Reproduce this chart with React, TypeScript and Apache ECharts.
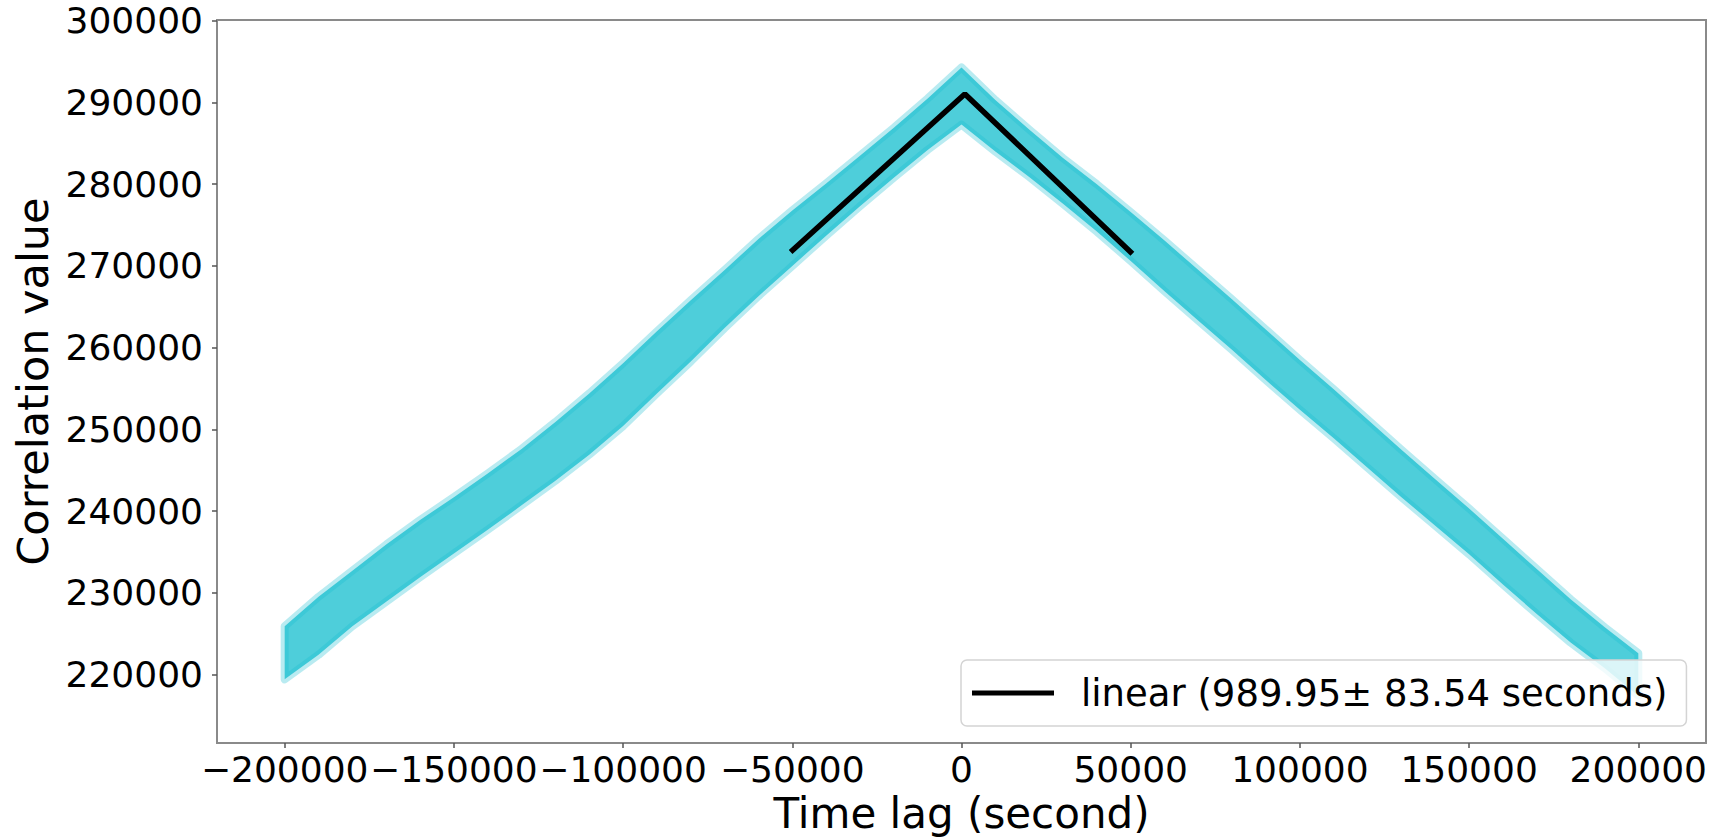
import React, { useEffect, useRef } from "react";
import * as echarts from "echarts";

// Time lag (s) at which the scatter band edges were read
const TIME_LAG = [
  -200000, -190000, -180000, -170000, -160000, -150000, -140000, -130000, -120000, -110000,
  -100000, -90000, -80000, -70000, -60000, -50000, -40000, -30000, -20000, -10000,
  0,
  10000, 20000, 30000, 40000, 50000, 60000, 70000, 80000, 90000, 100000,
  110000, 120000, 130000, 140000, 150000, 160000, 170000, 180000, 190000, 200000,
];

// Upper edge of the dense scatter band (correlation value)
const BAND_UPPER = [
  225900, 229500, 232700, 235900, 238900, 241700, 244600, 247600, 250900, 254400,
  258100, 262000, 265800, 269500, 273300, 276800, 280100, 283500, 286900, 290500,
  294300,
  290300, 286700, 283200, 280000, 276600, 273100, 269500, 265900, 262200, 258500,
  254900, 251200, 247500, 243900, 240300, 236600, 232900, 229200, 225800, 222600,
];

// Lower edge of the dense scatter band (correlation value)
const BAND_LOWER = [
  219400, 222400, 225900, 228900, 231900, 234800, 237700, 240700, 243700, 246900,
  250400, 254400, 258300, 262400, 266300, 270000, 273700, 277300, 280800, 284200,
  287300,
  284000, 280900, 277600, 274200, 270600, 266900, 263300, 259700, 256000, 252400,
  248900, 245300, 241700, 238200, 234700, 231000, 227400, 223900, 220800, 217400,
];

// Linear fit (black line)
const FIT_NAME = "linear (989.95\u00b1 83.54 seconds)";
const FIT_X = [-50500, 990, 50500];
const FIT_Y = [271700, 291050, 271500];

// Tick values
const X_TICKS = [-200000, -150000, -100000, -50000, 0, 50000, 100000, 150000, 200000];
const Y_TICKS = [220000, 230000, 240000, 250000, 260000, 270000, 280000, 290000, 300000];

const X_TITLE = "Time lag (second)";
const Y_TITLE = "Correlation value";

const FONT = "DejaVu Sans";

export default function App() {
  const ref = useRef<HTMLDivElement>(null);

  useEffect(() => {
    if (!ref.current) return;
    const chart = echarts.init(ref.current, undefined, { renderer: "svg" });

    const bandData = TIME_LAG.map((x, i) => [x, BAND_LOWER[i], BAND_UPPER[i]]);
    const fitData = FIT_X.map((x, i) => [x, FIT_Y[i]]);

    const fmt = (v: number) => (v < 0 ? "\u2212" + Math.abs(v) : String(v));

    chart.setOption({
      animation: false,
      backgroundColor: "#ffffff",
      grid: {
        left: 217,
        right: 10,
        top: 20,
        bottom: 95,
        show: true,
        borderColor: "#8a8a8a",
        borderWidth: 2,
        backgroundColor: "transparent",
      },
      xAxis: {
        type: "value",
        min: -220000,
        max: 220000,
        axisLine: { show: false, onZero: false },
        splitLine: { show: false },
        axisTick: {
          show: true,
          length: 5,
          lineStyle: { color: "#555", width: 1.5 },
          customValues: X_TICKS,
        },
        axisLabel: {
          fontSize: 36,
          fontFamily: FONT,
          color: "#000",
          margin: 8,
          formatter: fmt,
          customValues: X_TICKS,
        },
        name: X_TITLE,
        nameLocation: "middle",
        nameGap: 46,
        nameTextStyle: { fontSize: 42, fontFamily: FONT, color: "#000" },
      },
      yAxis: {
        type: "value",
        min: 211600,
        max: 300100,
        axisLine: { show: false, onZero: false },
        splitLine: { show: false },
        axisTick: {
          show: true,
          length: 5,
          lineStyle: { color: "#555", width: 1.5 },
          customValues: Y_TICKS,
        },
        axisLabel: {
          fontSize: 36,
          fontFamily: FONT,
          color: "#000",
          margin: 14,
          formatter: fmt,
          customValues: Y_TICKS,
        },
        name: Y_TITLE,
        nameLocation: "middle",
        nameGap: 152,
        nameTextStyle: { fontSize: 43, fontFamily: FONT, color: "#000" },
      },
      legend: {
        data: [{ name: FIT_NAME, icon: "rect" }],
        left: 961,
        top: 660,
        backgroundColor: "rgba(255,255,255,0.8)",
        borderColor: "#d4d4d4",
        borderWidth: 1.5,
        borderRadius: 6,
        padding: [12, 19, 12, 11],
        itemWidth: 82,
        itemHeight: 5,
        selectedMode: false,
        textStyle: {
          fontSize: 37,
          fontFamily: FONT,
          color: "#000",
          lineHeight: 42,
          padding: [0, 0, 0, 22],
        },
      },
      series: [
        {
          name: "scatter band",
          type: "custom",
          data: bandData,
          silent: true,
          clip: true,
          z: 1,
          renderItem: (params: any, api: any) => {
            if (params.dataIndex !== 0) return null;
            const pts: number[][] = [];
            for (let i = 0; i < TIME_LAG.length; i++) {
              pts.push(api.coord([TIME_LAG[i], BAND_UPPER[i]]));
            }
            for (let i = TIME_LAG.length - 1; i >= 0; i--) {
              pts.push(api.coord([TIME_LAG[i], BAND_LOWER[i]]));
            }
            return {
              type: "polygon",
              shape: { points: pts },
              style: {
                fill: "rgba(23,190,207,0.76)",
                stroke: "rgba(23,190,207,0.3)",
                lineWidth: 8,
                lineJoin: "round",
              },
            };
          },
        },
        {
          name: FIT_NAME,
          type: "line",
          data: fitData,
          symbol: "none",
          silent: true,
          itemStyle: { color: "#000" },
          lineStyle: { color: "#000", width: 5.5 },
          z: 3,
        },
      ],
    });

    return () => {
      chart.dispose();
    };
  }, []);

  return (
    <div
      ref={ref}
      style={{ position: "fixed", left: 0, top: 0, width: 1716, height: 839 }}
    />
  );
}
